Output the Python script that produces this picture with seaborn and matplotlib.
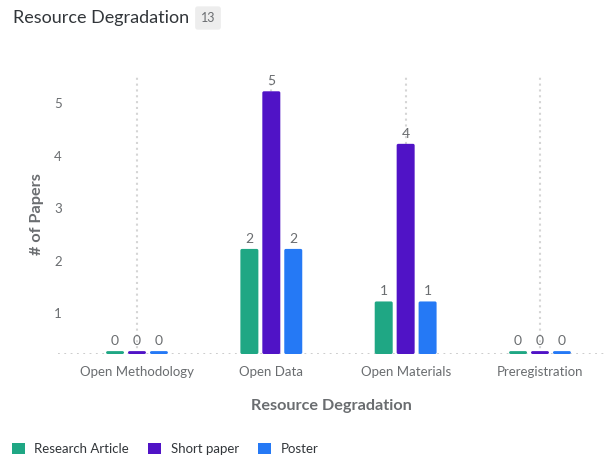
import numpy as np
import pandas as pd
import matplotlib
matplotlib.use("Agg")
import matplotlib.pyplot as plt
import matplotlib.transforms as mtransforms
from matplotlib.patches import FancyBboxPatch
import seaborn as sns

categories = ["Open Methodology", "Open Data", "Open Materials", "Preregistration"]
series = ["Research Article", "Short paper", "Poster"]
research_article = [0, 2, 1, 0]
short_paper = [0, 5, 4, 0]
poster = [0, 2, 1, 0]
colors = ["#1fa784", "#5013c6", "#2579f5"]
title = "Resource Degradation"
badge = "13"
y_ticks = [1, 2, 3, 4, 5]

rows = []
for s, vals in zip(series, [research_article, short_paper, poster]):
    for c, v in zip(categories, vals):
        rows.append({"category": c, "series": s, "value": v})
df = pd.DataFrame(rows)
# minimum visible height for zero bars (style only)
df["shown"] = df["value"].clip(lower=0.055)

sns.set_theme(style="white")
plt.rcParams["font.family"] = ["Lato", "DejaVu Sans"]

fig = plt.figure(figsize=(6.08, 4.57), dpi=100)
ax = fig.add_axes([58 / 608, 1 - 354 / 457, 547 / 608, 279 / 457])

sns.barplot(data=df, x="category", y="shown", hue="series", order=categories,
            hue_order=series, palette=colors, width=0.49, gap=0.18,
            ax=ax, saturation=1, linewidth=0, errorbar=None)

ax.set_xlim(-0.588, 3.484)
ax.set_ylim(0, 5.31)

# rounded bars and value labels
aspect = (1 / 52.5) / (1 / 134.3)
val_lookup = {}
for s, vals in zip(series, [research_article, short_paper, poster]):
    val_lookup[s] = vals
for container, s in zip(ax.containers, series):
    for patch, v in zip(container.patches, val_lookup[s]):
        x0, w = patch.get_x(), patch.get_width()
        h = patch.get_height()
        fc = patch.get_facecolor()
        patch.set_visible(False)
        r = 0.012
        fb = FancyBboxPatch((x0, 0), w, h,
                            boxstyle=f"round,pad=0,rounding_size={r}",
                            mutation_aspect=aspect, facecolor=fc,
                            edgecolor="none", zorder=3)
        ax.add_patch(fb)
        ax.annotate(str(v), (x0 + w / 2, h), xytext=(0, 3),
                    textcoords="offset points", ha="center", va="bottom",
                    fontsize=10, color="#6a6d70")

# grid
for i in range(len(categories)):
    ax.axvline(i, color="#d5d5d5", linestyle=(0, (1, 1.8)), linewidth=1.5, zorder=0)
ax.axhline(0, color="#c8c8c8", linestyle=(0, (1, 2.5)), linewidth=1.3, zorder=0)

for sp in ax.spines.values():
    sp.set_visible(False)

ax.set_yticks(y_ticks)
ax.set_yticklabels([str(t) for t in y_ticks])
ax.tick_params(axis="y", length=0, pad=0, labelsize=9.5, labelcolor="#6a6d70")
offset = mtransforms.ScaledTranslation(0, -12 / 100, fig.dpi_scale_trans)
for lbl in ax.get_yticklabels():
    lbl.set_horizontalalignment("center")
    lbl.set_transform(lbl.get_transform() + offset)

ax.tick_params(axis="x", length=0, pad=9, labelsize=9.5, labelcolor="#6a6d70")

ax.set_xlabel("Resource Degradation", fontsize=11.7, fontweight="bold",
              color="#6a6d70", labelpad=15)
ax.set_ylabel("# of Papers", fontsize=11.7, fontweight="bold",
              color="#6a6d70", labelpad=7)

# legend
handles, labels = ax.get_legend_handles_labels()
ax.get_legend().remove()
leg = fig.legend(handles, labels, loc="center left", bbox_to_anchor=(12 / 608, 1 - 449 / 457),
                 ncol=3, frameon=False, fontsize=9.5, handlelength=0.95,
                 handleheight=0.95, handletextpad=0.75, columnspacing=1.45,
                 borderaxespad=0, borderpad=0)
for t in leg.get_texts():
    t.set_color("#32363a")

# title and badge
fig.text(13 / 608, 1 - 18 / 457, title, fontsize=13, color="#32363a",
         ha="left", va="center")
fig.text(208 / 608, 1 - 18 / 457, badge, fontsize=9, color="#6a6d70",
         ha="center", va="center",
         bbox=dict(boxstyle="round,pad=0.45,rounding_size=0.2", facecolor="#ededed",
                   edgecolor="none"))

fig.savefig("out.png", dpi=100)
